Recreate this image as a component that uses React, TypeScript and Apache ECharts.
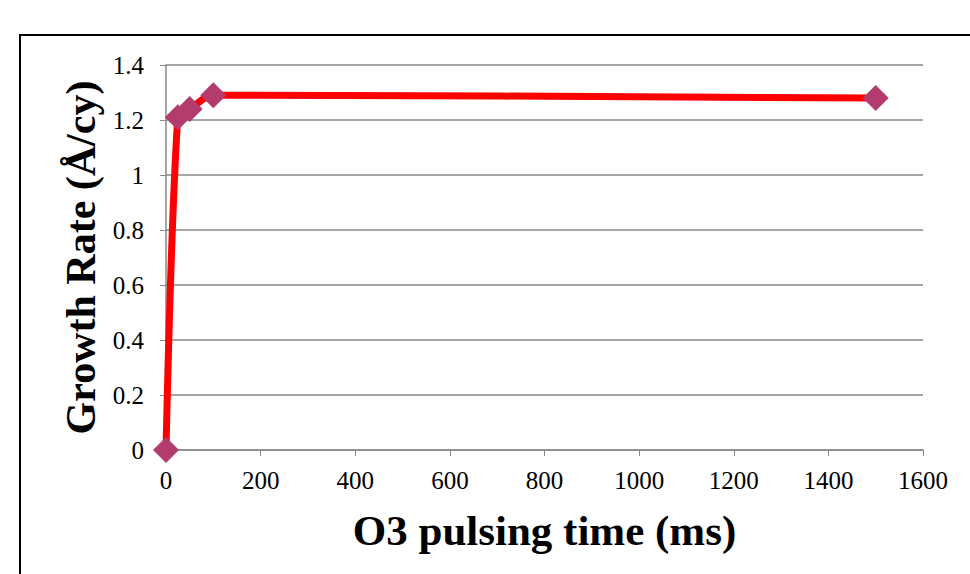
import React, { useEffect, useRef } from "react";
import * as echarts from "echarts";

const xValues = [0, 25, 50, 100, 1500];
const growthRate = [0, 1.21, 1.24, 1.29, 1.28];
const xAxisTitle = "O3 pulsing time (ms)";
const yAxisTitle = "Growth Rate (Å/cy)";

export default function App() {
  const ref = useRef<HTMLDivElement>(null);
  useEffect(() => {
    document.body.style.margin = "0";
    const chart = echarts.init(ref.current!, null, { renderer: "svg" });
    const font = "'Liberation Serif', 'Times New Roman', serif";
    chart.setOption({
      animation: false,
      backgroundColor: "#ffffff",
      grid: { left: 166, right: 47, top: 65, bottom: 124 },
      graphic: [
        {
          type: "rect",
          shape: { x: 20, y: 35, width: 1000, height: 600 },
          style: { fill: "none", stroke: "#000000", lineWidth: 2 },
          silent: true,
        },
      ],
      xAxis: {
        type: "value",
        min: 0,
        max: 1600,
        interval: 200,
        name: xAxisTitle,
        nameLocation: "middle",
        nameGap: 59,
        nameTextStyle: { fontFamily: font, fontSize: 43, fontWeight: "bold", color: "#000" },
        axisLine: { show: true, lineStyle: { color: "#898989", width: 1.5 } },
        axisTick: { show: true, inside: false, length: 6, lineStyle: { color: "#898989" } },
        axisLabel: {
          fontFamily: font,
          fontSize: 25,
          color: "#000",
          margin: 18,
          formatter: (v: number) => String(v),
        },
        splitLine: { show: false },
      },
      yAxis: {
        type: "value",
        min: 0,
        max: 1.4,
        interval: 0.2,
        name: yAxisTitle,
        nameLocation: "middle",
        nameGap: 64,
        nameRotate: 90,
        nameTextStyle: { fontFamily: font, fontSize: 42, fontWeight: "bold", color: "#000" },
        axisLine: { show: true, lineStyle: { color: "#898989", width: 1.5 } },
        axisTick: { show: true, inside: false, length: 6, lineStyle: { color: "#898989" } },
        axisLabel: {
          fontFamily: font,
          fontSize: 25,
          color: "#000",
          margin: 22,
          formatter: (v: number) => String(Math.round(v * 10) / 10),
        },
        splitLine: { show: true, lineStyle: { color: "#898989", width: 1.5 } },
      },
      series: [
        {
          type: "line",
          data: xValues.map((x, i) => [x, growthRate[i]]),
          smooth: 0.3,
          lineStyle: { color: "#ff0000", width: 7 },
          symbol: "diamond",
          symbolSize: 26,
          itemStyle: { color: "#B33C6E", borderWidth: 0 },
          z: 3,
        },
      ],
    });
    return () => chart.dispose();
  }, []);
  return <div ref={ref} style={{ width: 970, height: 574 }} />;
}
